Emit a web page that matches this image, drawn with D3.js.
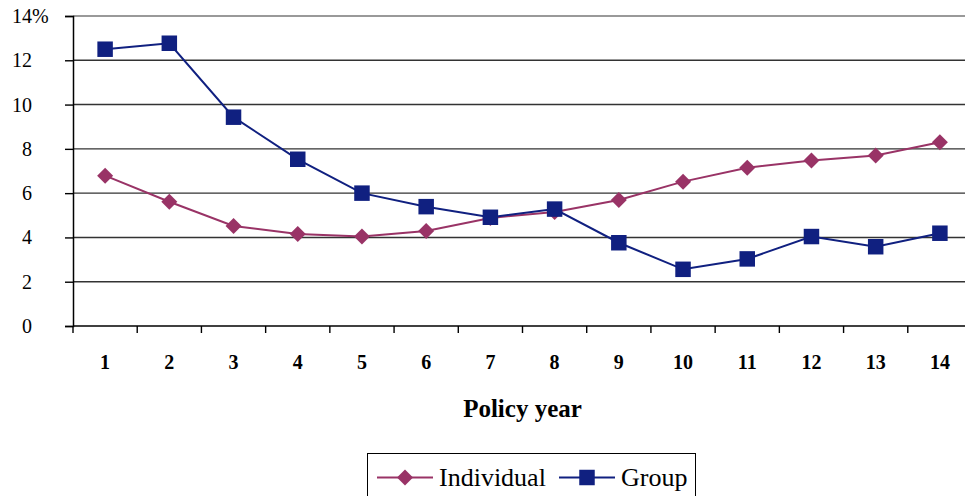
<!DOCTYPE html>
<html>
<head>
<meta charset="utf-8">
<script src="https://cdn.jsdelivr.net/npm/d3@7"></script>
<style>
  html, body { margin: 0; padding: 0; background: #fff; overflow: hidden; }
</style>
</head>
<body>
<svg id="chart" width="965" height="496"></svg>
<script>
// Policy years and lapse rates (%) by policy type
const years = [1, 2, 3, 4, 5, 6, 7, 8, 9, 10, 11, 12, 13, 14];
const individual = [6.79, 5.61, 4.52, 4.15, 4.04, 4.29, 4.88, 5.15, 5.69, 6.52, 7.15, 7.47, 7.70, 8.30];
const group = [12.50, 12.77, 9.43, 7.53, 6.00, 5.39, 4.91, 5.28, 3.76, 2.56, 3.03, 4.04, 3.58, 4.19];
const yTicks = [0, 2, 4, 6, 8, 10, 12, 14];
const seriesNames = ["Individual", "Group"];

const colors = { Individual: "#993366", Group: "#102080" };
const serif = "'Liberation Serif', 'Times New Roman', serif";

const svg = d3.select("#chart");
const plot = { left: 73, right: 972, top: 16, bottom: 326 };

const x = d3.scaleBand().domain(years).range([plot.left, plot.right]);
const y = d3.scaleLinear().domain([0, 14]).range([plot.bottom, plot.top]);

// Horizontal gridlines
svg.append("g")
  .selectAll("line")
  .data(yTicks.filter(d => d > 0))
  .join("line")
  .attr("x1", plot.left).attr("x2", plot.right)
  .attr("y1", d => y(d)).attr("y2", d => y(d))
  .attr("stroke", d => d === 14 ? "#999" : "#333")
  .attr("stroke-width", d => d === 14 ? 2 : 1.4);

// Y axis
const yAxis = svg.append("g")
  .attr("transform", `translate(${plot.left},0)`)
  .call(d3.axisLeft(y).tickValues(yTicks).tickSize(8).tickFormat(""));
yAxis.select(".domain").attr("stroke", "#000").attr("stroke-width", 1.5);
yAxis.selectAll(".tick line").attr("stroke", "#000").attr("stroke-width", 1.4);

// Y labels: numbers right-aligned at x=32, "%" trailing on the top one
svg.append("g")
  .selectAll("text")
  .data(yTicks)
  .join("text")
  .style("font-family", serif)
  .attr("y", d => y(d))
  .attr("dy", "0.35em")
  .attr("font-size", 20)
  .attr("fill", "#000")
  .text(d => String(d))
  .each(function () {
    const w = this.getComputedTextLength();
    d3.select(this).attr("x", 32 - w);
  })
  .text(d => d === 14 ? d + "%" : String(d));

// X axis with ticks on category boundaries
const bounds = years.map(d => x(d)).concat([plot.right]);
svg.append("line")
  .attr("x1", plot.left).attr("x2", plot.right)
  .attr("y1", plot.bottom).attr("y2", plot.bottom)
  .attr("stroke", "#000").attr("stroke-width", 1.5);
svg.append("g")
  .selectAll("line")
  .data(bounds)
  .join("line")
  .attr("x1", d => d).attr("x2", d => d)
  .attr("y1", plot.bottom).attr("y2", plot.bottom + 7)
  .attr("stroke", "#000").attr("stroke-width", 1.4);

svg.append("g")
  .selectAll("text")
  .data(years)
  .join("text")
  .style("font-family", serif)
  .attr("x", d => x(d) + x.bandwidth() / 2)
  .attr("y", 362)
  .attr("dy", "0.35em")
  .attr("text-anchor", "middle")
  .attr("font-size", 20)
  .attr("font-weight", "bold")
  .text(d => d);

svg.append("text")
  .style("font-family", serif)
  .attr("x", (plot.left + plot.right) / 2)
  .attr("y", 417)
  .attr("text-anchor", "middle")
  .attr("font-size", 25)
  .attr("font-weight", "bold")
  .text("Policy year");

// Lines and markers
const line = d3.line()
  .x((d, i) => x(years[i]) + x.bandwidth() / 2)
  .y(d => y(d));

const diamond = d3.symbol().type(d3.symbolSquare).size(128);
const square = d3.symbol().type(d3.symbolSquare).size(240);

function drawSeries(values, color, kind) {
  svg.append("path")
    .datum(values)
    .attr("d", line)
    .attr("fill", "none")
    .attr("stroke", color)
    .attr("stroke-width", 2);
  svg.append("g")
    .selectAll("path")
    .data(values)
    .join("path")
    .attr("transform", (d, i) =>
      `translate(${x(years[i]) + x.bandwidth() / 2},${y(d)})` + (kind === "diamond" ? " rotate(45)" : ""))
    .attr("d", kind === "diamond" ? diamond : square)
    .attr("fill", color);
}

drawSeries(individual, colors.Individual, "diamond");
drawSeries(group, colors.Group, "square");

// Legend
const legend = svg.append("g");
legend.append("rect")
  .attr("x", 367.5).attr("y", 453.5)
  .attr("width", 328).attr("height", 60)
  .attr("fill", "#fff").attr("stroke", "#000").attr("stroke-width", 1);

const legendItems = [
  { name: seriesNames[0], x0: 377, kind: "diamond", tx: 439 },
  { name: seriesNames[1], x0: 559, kind: "square", tx: 621 }
];
legendItems.forEach(it => {
  const c = colors[it.name];
  legend.append("line")
    .attr("x1", it.x0).attr("x2", it.x0 + 56)
    .attr("y1", 477.5).attr("y2", 477.5)
    .attr("stroke", c).attr("stroke-width", 2);
  legend.append("path")
    .attr("transform", `translate(${it.x0 + 28},477.5)` + (it.kind === "diamond" ? " rotate(45)" : ""))
    .attr("d", it.kind === "diamond" ? diamond : square)
    .attr("fill", c);
  legend.append("text")
    .style("font-family", serif)
    .attr("x", it.tx).attr("y", 486)
    .attr("font-size", 26)
    .text(it.name);
});
</script>
</body>
</html>
